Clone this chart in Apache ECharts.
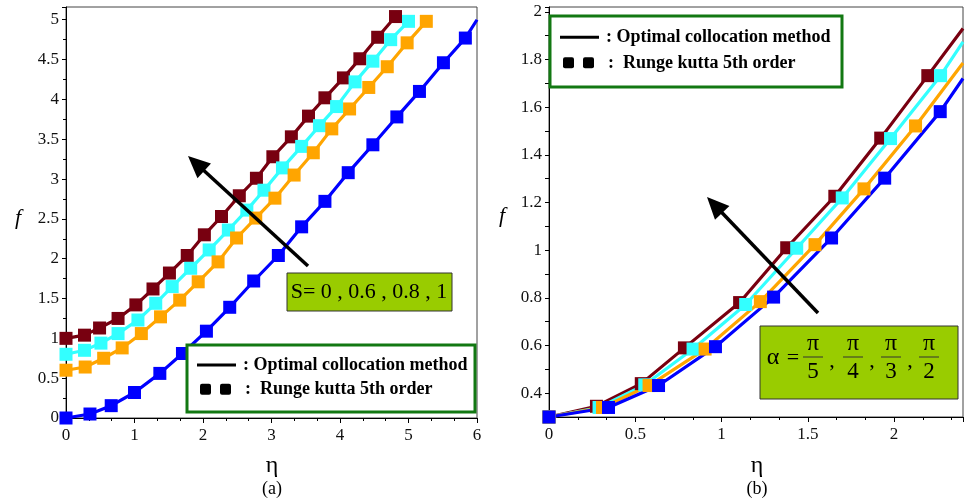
<!DOCTYPE html>
<html>
<head>
<meta charset="utf-8">
<script src="https://cdn.jsdelivr.net/npm/echarts@6/dist/echarts.min.js"></script>
<style>
  html, body { margin: 0; padding: 0; background: #fff; }
  #chart { width: 966px; height: 504px; }
</style>
</head>
<body>
<div id="chart"></div>
<script>
// ---- panel (a) : f vs eta for S = 0, 0.6, 0.8, 1
const etaA_S1  = [0, 0.27, 0.49, 0.76, 1.02, 1.27, 1.51, 1.77, 2.02, 2.27, 2.53, 2.78, 3.02, 3.29, 3.54, 3.78, 4.05, 4.29, 4.55, 4.81];
const fA_S1    = [1.0, 1.04, 1.13, 1.25, 1.42, 1.62, 1.82, 2.04, 2.30, 2.53, 2.79, 3.01, 3.28, 3.53, 3.79, 4.02, 4.27, 4.51, 4.78, 5.04];
const etaA_S08 = [0, 0.27, 0.51, 0.76, 1.05, 1.31, 1.55, 1.82, 2.09, 2.37, 2.64, 2.89, 3.16, 3.44, 3.70, 3.95, 4.22, 4.48, 4.74, 5.0];
const fA_S08   = [0.8, 0.85, 0.94, 1.06, 1.23, 1.44, 1.65, 1.88, 2.11, 2.36, 2.61, 2.86, 3.14, 3.41, 3.67, 3.91, 4.22, 4.48, 4.75, 4.98];
const etaA_S06 = [0, 0.28, 0.55, 0.82, 1.10, 1.38, 1.66, 1.93, 2.22, 2.49, 2.77, 3.05, 3.33, 3.61, 3.88, 4.14, 4.42, 4.69, 4.98, 5.26];
const fA_S06   = [0.6, 0.64, 0.75, 0.88, 1.06, 1.27, 1.48, 1.71, 1.96, 2.26, 2.51, 2.76, 3.05, 3.33, 3.63, 3.88, 4.15, 4.41, 4.71, 4.98];
const etaA_S0  = [0, 0.35, 0.66, 1.0, 1.37, 1.70, 2.05, 2.39, 2.74, 3.1, 3.44, 3.78, 4.12, 4.48, 4.83, 5.16, 5.51, 5.83];
const fA_S0    = [0, 0.05, 0.155, 0.32, 0.56, 0.81, 1.09, 1.39, 1.72, 2.04, 2.40, 2.72, 3.08, 3.43, 3.78, 4.10, 4.46, 4.77];
const endA_S0  = [6.0, 5.0];   // line continues past last marker

// ---- panel (b) : f vs eta for alpha = pi/5, pi/4, pi/3, pi/2
const etaB_1 = [0, 0.275, 0.535, 0.785, 1.105, 1.378, 1.657, 1.923, 2.196];
const fB_1   = [0.3, 0.345, 0.44, 0.59, 0.78, 1.01, 1.226, 1.47, 1.732];
const endB_1 = [2.4, 1.93];
const etaB_2 = [0, 0.29, 0.555, 0.835, 1.14, 1.436, 1.70, 1.98, 2.27];
const fB_2   = [0.3, 0.34, 0.435, 0.585, 0.772, 1.008, 1.219, 1.468, 1.732];
const endB_2 = [2.4, 1.874];
const etaB_3 = [0, 0.31, 0.58, 0.905, 1.225, 1.542, 1.826, 2.125];
const fB_3   = [0.3, 0.34, 0.432, 0.585, 0.784, 1.023, 1.257, 1.521];
const endB_3 = [2.4, 1.785];
const etaB_4 = [0, 0.345, 0.635, 0.965, 1.302, 1.638, 1.946, 2.268];
const fB_4   = [0.3, 0.34, 0.432, 0.595, 0.803, 1.051, 1.302, 1.581];
const endB_4 = [2.4, 1.72];

const cBrown = '#780010', cCyan = '#33ffff', cOrange = '#ffa500', cBlue = '#0000ff';
const FONT = 'Liberation Serif';

function curve(xs, ys, end, color, idx) {
  let data = xs.map((x, i) => [x, ys[i]]);
  if (end) data.push({ value: end, symbol: 'none' });
  return {
    type: 'line', xAxisIndex: idx, yAxisIndex: idx, data: data,
    symbol: 'rect', symbolSize: 13, showSymbol: true,
    lineStyle: { color: color, width: 3.2 },
    itemStyle: { color: color },
    animation: false, clip: true
  };
}

function multipleOf(v, step) {
  return Math.abs(v / step - Math.round(v / step)) < 1e-6;
}

const labelStyle = { fontFamily: FONT, fontSize: 17, color: '#111' };

function xAxisCfg(idx, max, interval) {
  return {
    type: 'value', gridIndex: idx, min: 0, max: max, interval: interval,
    axisLine: { onZero: false, lineStyle: { color: '#000', width: 1 } },
    axisTick: { inside: false, length: 5, lineStyle: { color: '#000' } },
    minorTick: { show: true, splitNumber: 3, length: 3, lineStyle: { color: '#000' } },
    splitLine: { show: false },
    axisLabel: Object.assign({ margin: 9, formatter: v => multipleOf(v, interval) ? String(Math.round(v * 10) / 10) : '' }, labelStyle)
  };
}

function yAxisCfg(idx, min, max, interval, minorSplit, labelStep) {
  return {
    type: 'value', gridIndex: idx, min: min, max: max, interval: interval,
    axisLine: { onZero: false, lineStyle: { color: '#000', width: 1 } },
    axisTick: { inside: false, length: 4, lineStyle: { color: '#000' } },
    minorTick: { show: minorSplit > 0, splitNumber: minorSplit || 2, length: 3, lineStyle: { color: '#000' } },
    splitLine: { show: false },
    axisLabel: Object.assign({ margin: 7, formatter: v => multipleOf(v, labelStep) ? String(Math.round(v * 10) / 10) : '' }, labelStyle)
  };
}

function arrow(x1, y1, x2, y2) {
  const len = Math.hypot(x2 - x1, y2 - y1);
  const ux = (x2 - x1) / len, uy = (y2 - y1) / len;
  const hl = 22, hw = 10;
  const bx = x2 - ux * hl, by = y2 - uy * hl;
  return [
    { type: 'line', z: 100, shape: { x1: x1, y1: y1, x2: bx + ux * 2, y2: by + uy * 2 }, style: { stroke: '#000', lineWidth: 3.5 } },
    { type: 'polygon', z: 100, shape: { points: [[x2, y2], [bx - uy * hw, by + ux * hw], [bx + uy * hw, by - ux * hw]] }, style: { fill: '#000' } }
  ];
}

function legendBox(x, y, w, h) {
  const row1 = y + h * 0.3, row2 = y + h * 0.66;
  return [
    { type: 'rect', z: 100, shape: { x: x, y: y, width: w, height: h }, style: { fill: '#fff', stroke: '#127812', lineWidth: 3 } },
    { type: 'line', z: 101, shape: { x1: x + 10, y1: row1, x2: x + 49, y2: row1 }, style: { stroke: '#000', lineWidth: 3 } },
    { type: 'text', z: 101, x: x + 56, y: row1, style: { text: ': Optimal collocation method', font: 'bold 18px "Liberation Serif"', fill: '#000', verticalAlign: 'middle' } },
    { type: 'rect', z: 101, shape: { x: x + 13, y: row2 - 5.5, width: 11, height: 11, r: 2 }, style: { fill: '#000' } },
    { type: 'rect', z: 101, shape: { x: x + 33, y: row2 - 5.5, width: 11, height: 11, r: 2 }, style: { fill: '#000' } },
    { type: 'text', z: 101, x: x + 58, y: row2, style: { text: ':  Runge kutta 5th order', font: 'bold 18px "Liberation Serif"', fill: '#000', verticalAlign: 'middle' } }
  ];
}

function fraction(cx, den) {
  return [
    { type: 'text', z: 101, x: cx, y: 344, style: { text: 'π', font: '24px "Liberation Serif"', fill: '#000', align: 'center', verticalAlign: 'middle' } },
    { type: 'line', z: 101, shape: { x1: cx - 10, y1: 357, x2: cx + 10, y2: 357 }, style: { stroke: '#333', lineWidth: 1 } },
    { type: 'text', z: 101, x: cx, y: 372, style: { text: den, font: '23px "Liberation Serif"', fill: '#000', align: 'center', verticalAlign: 'middle' } }
  ];
}

function plainText(x, y, text, font) {
  return { type: 'text', z: 101, x: x, y: y, style: { text: text, font: font, fill: '#000', align: 'center', verticalAlign: 'middle' } };
}

let graphics = [];
graphics = graphics.concat(arrow(308, 266, 188, 156));
graphics = graphics.concat(arrow(818, 313, 707, 197));
graphics = graphics.concat(legendBox(187, 345, 288, 67));
graphics = graphics.concat(legendBox(550, 16, 292, 71));
// S annotation
graphics.push({ type: 'rect', z: 100, shape: { x: 287, y: 273, width: 165, height: 38 }, style: { fill: '#99cc00', stroke: '#333', lineWidth: 1 } });
graphics.push(plainText(369, 292, 'S= 0 , 0.6 , 0.8 , 1', '22px "Liberation Serif"'));
// alpha annotation
graphics.push({ type: 'rect', z: 100, shape: { x: 760, y: 326, width: 198, height: 73 }, style: { fill: '#99cc00', stroke: '#333', lineWidth: 1 } });
graphics.push(plainText(773, 358, 'α', '24px "Liberation Serif"'));
graphics.push(plainText(793, 358, '=', '22px "Liberation Serif"'));
const alphaDen = ['5', '4', '3', '2'];
const fracX = [813, 853, 891, 929];
alphaDen.forEach((d, i) => {
  graphics = graphics.concat(fraction(fracX[i], d));
  if (i < 3) graphics.push(plainText(fracX[i] + 19, 361, ',', '22px "Liberation Serif"'));
});
// axis names and captions
graphics.push(plainText(18, 218, 'f', 'italic 22px "Liberation Serif"'));
graphics.push(plainText(502, 216, 'f', 'italic 22px "Liberation Serif"'));
graphics.push(plainText(272, 466, 'η', '24px "Liberation Serif"'));
graphics.push(plainText(757, 466, 'η', '24px "Liberation Serif"'));
graphics.push(plainText(272, 489, '(a)', '18px "Liberation Serif"'));
graphics.push(plainText(757, 489, '(b)', '18px "Liberation Serif"'));

const chart = echarts.init(document.getElementById('chart'));
chart.setOption({
  backgroundColor: '#fff',
  animation: false,
  grid: [
    { left: 66, right: 489, top: 7, bottom: 86, show: true, borderColor: '#444', borderWidth: 1, containLabel: false },
    { left: 549, right: 0, top: 7, bottom: 87, show: true, borderColor: '#444', borderWidth: 1, containLabel: false }
  ],
  xAxis: [xAxisCfg(0, 6, 1), xAxisCfg(1, 2.4, 0.5)],
  yAxis: [yAxisCfg(0, 0, 5.16, 0.5, 2, 0.5), yAxisCfg(1, 0.3, 2.02, 0.1, 0, 0.2)],
  series: [
    curve(etaA_S1, fA_S1, null, cBrown, 0),
    curve(etaA_S08, fA_S08, null, cCyan, 0),
    curve(etaA_S06, fA_S06, null, cOrange, 0),
    curve(etaA_S0, fA_S0, endA_S0, cBlue, 0),
    curve(etaB_1, fB_1, endB_1, cBrown, 1),
    curve(etaB_2, fB_2, endB_2, cCyan, 1),
    curve(etaB_3, fB_3, endB_3, cOrange, 1),
    curve(etaB_4, fB_4, endB_4, cBlue, 1)
  ],
  graphic: graphics
});
</script>
</body>
</html>
